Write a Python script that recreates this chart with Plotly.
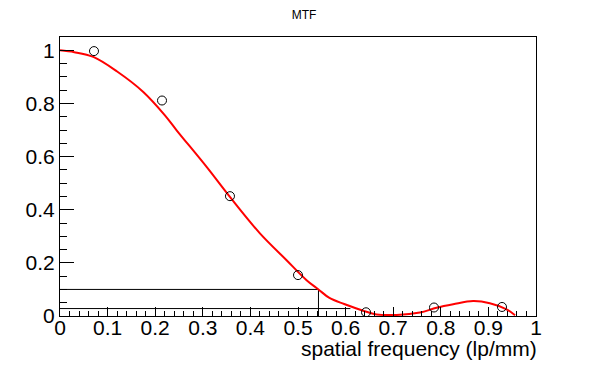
import plotly.graph_objects as go

# pontos medidos do MTF
freq_pts = [0.0714, 0.2143, 0.3571, 0.5, 0.6429, 0.7857, 0.9286]
mtf_pts = [0.997, 0.811, 0.451, 0.154, 0.014, 0.032, 0.034]

# curva ajustada
freq_fit = [0.0, 0.03, 0.07, 0.12, 0.175, 0.22, 0.245, 0.308, 0.357, 0.42,
            0.476, 0.518, 0.543, 0.566, 0.597, 0.637, 0.665, 0.707, 0.756,
            0.791, 0.826, 0.868, 0.903, 0.938, 0.956]
mtf_fit = [1.0, 0.993, 0.975, 0.92, 0.843, 0.756, 0.699, 0.561, 0.448, 0.311,
           0.21, 0.135, 0.1, 0.068, 0.045, 0.02, 0.006, 0.004, 0.013,
           0.031, 0.044, 0.056, 0.048, 0.025, 0.003]

# linhas de referência (limiar 10% e 3%)
thr_hi = 0.1
thr_hi_freq = 0.543
thr_lo = 0.028
thr_lo_freq = 0.61

fig = go.Figure()

fig.add_trace(go.Scatter(
    x=[0, thr_hi_freq, thr_hi_freq], y=[thr_hi, thr_hi, 0],
    mode='lines', line=dict(color='black', width=1), hoverinfo='skip'
))
fig.add_trace(go.Scatter(
    x=[0, thr_lo_freq], y=[thr_lo, thr_lo],
    mode='lines', line=dict(color='black', width=1), hoverinfo='skip'
))
fig.add_trace(go.Scatter(
    x=freq_fit, y=mtf_fit, mode='lines', line_shape='spline',
    line=dict(color='#ff0000', width=2)
))
fig.add_trace(go.Scatter(
    x=freq_pts, y=mtf_pts, mode='markers',
    marker=dict(symbol='circle-open', size=9, color='black', line=dict(width=1))
))

axis_font = dict(family='Liberation Sans, Arial', size=21, color='black')

# margens compensam o recuo de 8px do body na página
fig.update_layout(
    width=596, height=372,
    margin=dict(l=52, r=68, t=29, b=64),
    paper_bgcolor='white', plot_bgcolor='white',
    showlegend=False,
    title=dict(text='MTF', x=0.4966, xanchor='center', y=0.982, yanchor='middle',
               font=dict(family='Liberation Sans, Arial', size=12, color='black')),
    xaxis=dict(
        range=[0, 1], showgrid=False, zeroline=False, automargin=False,
        showline=True, linecolor='black', linewidth=1, mirror=True,
        ticks='inside', ticklen=9, tickcolor='black', tickwidth=1,
        tick0=0, dtick=0.1, tickformat='.1~f', tickfont=axis_font,
        ticklabelstandoff=-7,
        minor=dict(ticks='inside', ticklen=5, dtick=0.02, tickcolor='black', showgrid=False),
    ),
    yaxis=dict(
        range=[0, 1.05], showgrid=False, zeroline=False, automargin=False,
        showline=True, linecolor='black', linewidth=1, mirror=True,
        ticks='inside', ticklen=14, tickcolor='black', tickwidth=1,
        tick0=0, dtick=0.2, tickformat='.1~f', tickfont=axis_font,
        minor=dict(ticks='inside', ticklen=7, dtick=0.05, tickcolor='black', showgrid=False),
    ),
    annotations=[dict(
        text='spatial frequency (lp/mm)', xref='paper', yref='paper',
        x=1.006, y=-0.115, xanchor='right', yanchor='middle', showarrow=False,
        font=dict(family='Liberation Sans, Arial', size=21, color='black')
    )]
)

fig.write_html("out.html")
